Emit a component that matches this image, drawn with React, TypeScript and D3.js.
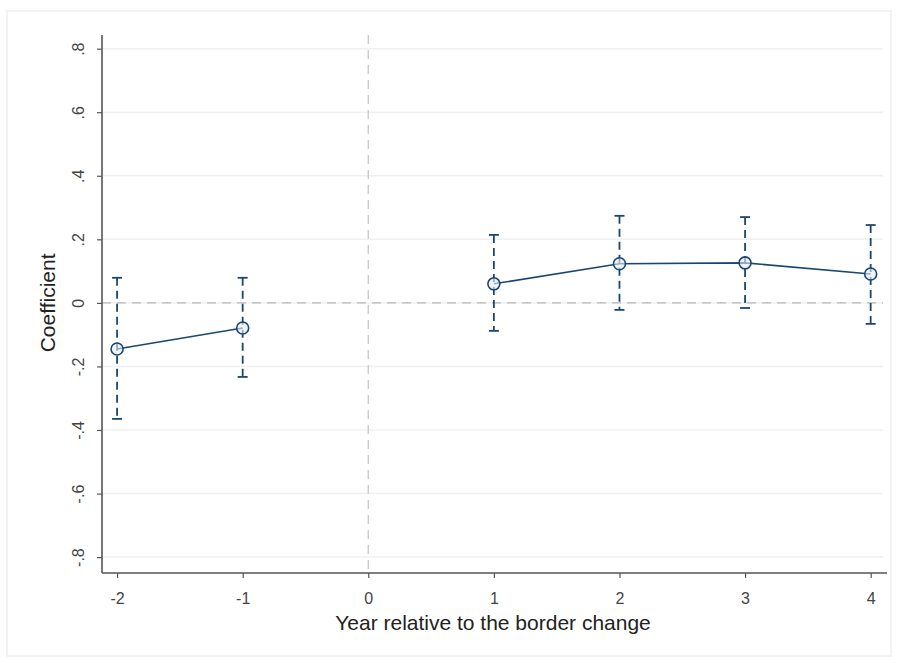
import React, { useEffect, useRef } from 'react';
import * as d3 from 'd3';

const years = [-2, -1, 1, 2, 3, 4];
const coef = [-0.145, -0.079, 0.06, 0.123, 0.126, 0.091];
const ciLow = [-0.365, -0.233, -0.088, -0.022, -0.016, -0.066];
const ciHigh = [0.079, 0.079, 0.214, 0.274, 0.27, 0.245];
const xTicks = [-2, -1, 0, 1, 2, 3, 4];
const yTicks = [-0.8, -0.6, -0.4, -0.2, 0, 0.2, 0.4, 0.6, 0.8];

// Stata style: .8, -.2, 0
const fmtY = (v: number) => {
  if (v === 0) return '0';
  const s = Math.abs(v).toFixed(1).replace(/^0/, '');
  return (v < 0 ? '-' : '') + s;
};

const App = () => {
  const svgRef = useRef<SVGSVGElement>(null);

  useEffect(() => {
    const svg = d3.select(svgRef.current);
    svg.selectAll('*').remove();

    const W = 897, H = 663;
    const left = 102, right = 887, top = 35, bottom = 573;
    const navy = '#1a476f';
    const font = '"Liberation Sans", Arial, sans-serif';

    svg.attr('width', W).attr('height', H);

    // outer frame
    svg.append('rect').attr('x', 0).attr('y', 0).attr('width', W).attr('height', H).attr('fill', '#fff');
    svg.append('rect').attr('x', 7).attr('y', 11).attr('width', 884).attr('height', 645)
      .attr('fill', '#fff').attr('stroke', '#f3f3f3').attr('stroke-width', 2);

    const x = d3.scaleLinear().domain([-2.12, 4.13]).range([left, right]);
    const y = d3.scaleLinear().domain([-0.85, 0.843]).range([bottom, top]);

    // gridlines
    svg.append('g').selectAll('line').data(yTicks).join('line')
      .attr('x1', left).attr('x2', right - 4)
      .attr('y1', d => y(d)).attr('y2', d => y(d))
      .attr('stroke', '#eef0f2').attr('stroke-width', 1.5);

    // reference lines
    svg.append('line')
      .attr('x1', left).attr('x2', right - 4).attr('y1', y(0)).attr('y2', y(0))
      .attr('stroke', '#b8b8b8').attr('stroke-width', 1.3).attr('stroke-dasharray', '9,6');
    svg.append('line')
      .attr('x1', x(0)).attr('x2', x(0)).attr('y1', top).attr('y2', bottom)
      .attr('stroke', '#c8c8c8').attr('stroke-width', 1.3).attr('stroke-dasharray', '9,6');

    // y axis
    const yAxis = svg.append('g').attr('transform', `translate(${left},0)`)
      .call(d3.axisLeft(y).tickValues(yTicks).tickFormat(d => fmtY(+d)).tickSize(5));
    yAxis.select('.domain').attr('stroke', '#555').attr('stroke-width', 1.6).attr('d', `M0,${top}V${bottom}`);
    yAxis.selectAll('.tick line').attr('stroke', '#555').attr('stroke-width', 1.2);
    yAxis.selectAll('.tick text')
      .attr('font-family', font).attr('font-size', 16).attr('fill', '#444')
      .attr('text-anchor', 'middle').attr('x', 0).attr('dy', '0.35em')
      .attr('transform', 'translate(-24,0) rotate(-90)');

    // x axis
    const xAxis = svg.append('g').attr('transform', `translate(0,${bottom})`)
      .call(d3.axisBottom(x).tickValues(xTicks).tickFormat(d => String(d)).tickSize(5));
    xAxis.select('.domain').attr('stroke', '#555').attr('stroke-width', 1.6).attr('d', `M${left},0H${right}`);
    xAxis.selectAll('.tick line').attr('stroke', '#555').attr('stroke-width', 1.2);
    xAxis.selectAll('.tick text')
      .attr('font-family', font).attr('font-size', 16).attr('fill', '#444')
      .attr('y', 25).attr('dy', '0.35em');

    // axis titles
    svg.append('text')
      .attr('transform', `translate(48,${y(0)}) rotate(-90)`)
      .attr('text-anchor', 'middle').attr('dy', '0.35em')
      .attr('font-family', font).attr('font-size', 21).attr('fill', '#222')
      .text('Coefficient');
    svg.append('text')
      .attr('x', 493).attr('y', 630)
      .attr('text-anchor', 'middle')
      .attr('font-family', font).attr('font-size', 21).attr('fill', '#222')
      .text('Year relative to the border change');

    const rows = years.map((yr, i) => ({ yr, c: coef[i], lo: ciLow[i], hi: ciHigh[i] }));

    // confidence intervals
    const ci = svg.append('g');
    ci.selectAll('line.ci').data(rows).join('line')
      .attr('x1', d => x(d.yr)).attr('x2', d => x(d.yr))
      .attr('y1', d => y(d.hi)).attr('y2', d => y(d.lo))
      .attr('stroke', navy).attr('stroke-width', 1.8).attr('stroke-dasharray', '8,5');
    ci.selectAll('line.capHi').data(rows).join('line')
      .attr('x1', d => x(d.yr) - 5).attr('x2', d => x(d.yr) + 5)
      .attr('y1', d => y(d.hi)).attr('y2', d => y(d.hi))
      .attr('stroke', navy).attr('stroke-width', 1.8);
    ci.selectAll('line.capLo').data(rows).join('line')
      .attr('x1', d => x(d.yr) - 5).attr('x2', d => x(d.yr) + 5)
      .attr('y1', d => y(d.lo)).attr('y2', d => y(d.lo))
      .attr('stroke', navy).attr('stroke-width', 1.8);

    // connected lines, pre and post
    const line = d3.line<{ yr: number; c: number }>().x(d => x(d.yr)).y(d => y(d.c));
    [rows.filter(d => d.yr < 0), rows.filter(d => d.yr > 0)].forEach(seg => {
      svg.append('path').datum(seg)
        .attr('fill', 'none').attr('stroke', navy).attr('stroke-width', 1.6)
        .attr('d', line);
    });

    // markers
    svg.append('g').selectAll('circle').data(rows).join('circle')
      .attr('cx', d => x(d.yr)).attr('cy', d => y(d.c)).attr('r', 6)
      .attr('fill', '#e6edf3').attr('fill-opacity', 0.6)
      .attr('stroke', navy).attr('stroke-width', 1.6);
  }, []);

  return <svg ref={svgRef} style={{ display: 'block', position: 'absolute', left: 0, top: 0 }}></svg>;
};

export default App;
